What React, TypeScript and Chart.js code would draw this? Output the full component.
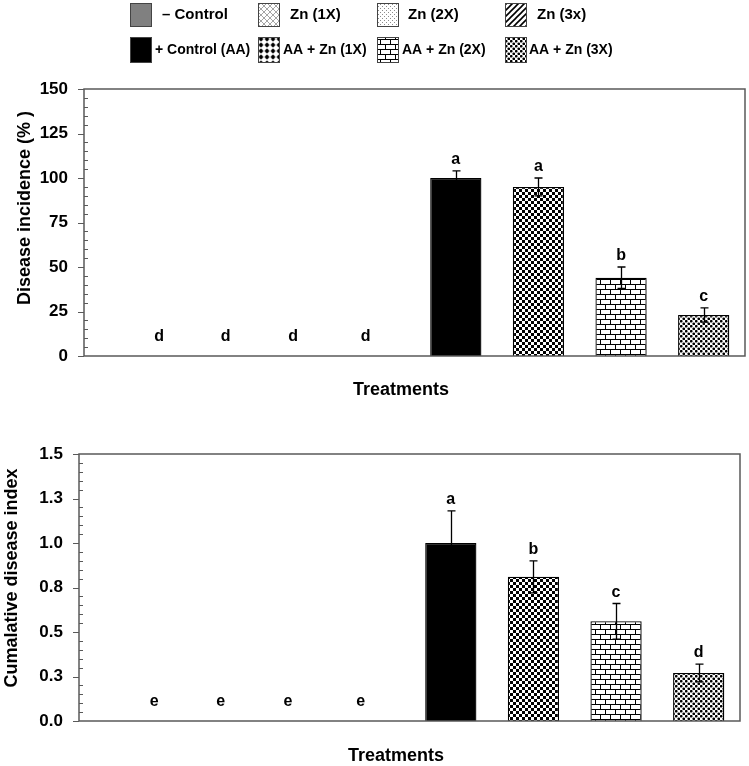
import React, { useEffect, useRef } from "react";
import { Chart, registerables } from "chart.js";

Chart.register(...registerables);

// ---------- data ----------
const TREATMENTS = [
  "– Control",
  "Zn (1X)",
  "Zn (2X)",
  "Zn (3x)",
  "+ Control (AA)",
  "AA + Zn (1X)",
  "AA + Zn (2X)",
  "AA + Zn (3X)",
];
const FILL_KINDS = ["gray", "lattice", "sparse", "diag", "black", "checker", "brick", "dense"];
const LEGEND_FILL_KINDS = ["gray", "lattice", "sparse", "diag", "black", "bigdots", "brick", "dense"];

const INCIDENCE = [0, 0, 0, 0, 100, 95, 44, 23];
const INCIDENCE_SE = [0, 0, 0, 0, 4, 5, 6, 4];
const INCIDENCE_LETTERS = ["d", "d", "d", "d", "a", "a", "b", "c"];
const INCIDENCE_TICK_LABELS = ["0", "25", "50", "75", "100", "125", "150"];

const CDI = [0, 0, 0, 0, 1.0, 0.81, 0.56, 0.27];
const CDI_SE = [0, 0, 0, 0, 0.18, 0.09, 0.1, 0.05];
const CDI_LETTERS = ["e", "e", "e", "e", "a", "b", "c", "d"];
const CDI_TICK_LABELS = ["0.0", "0.3", "0.5", "0.8", "1.0", "1.3", "1.5"];

// ---------- layout / style constants ----------
const FONT = "Arial, 'Liberation Sans', sans-serif";
const AXIS_COLOR = "#595959";
const EMPTY_LETTER_SHIFT = [0.41, 0.215, 0.03, -0.09];

function makeTile(w: number, h: number, draw: (c: CanvasRenderingContext2D) => void): CanvasPattern | string {
  const cv = document.createElement("canvas");
  cv.width = w;
  cv.height = h;
  const c = cv.getContext("2d");
  if (!c) return "#888";
  c.fillStyle = "#fff";
  c.fillRect(0, 0, w, h);
  draw(c);
  return c.createPattern(cv, "repeat") || "#888";
}

function makeFills(): Record<string, string | CanvasPattern> {
  return {
    gray: "#808080",
    black: "#000000",
    lattice: makeTile(6, 6, (c) => {
      c.strokeStyle = "#9a9a9a";
      c.lineWidth = 0.9;
      c.beginPath();
      c.moveTo(0, 0);
      c.lineTo(6, 6);
      c.moveTo(6, 0);
      c.lineTo(0, 6);
      c.stroke();
    }),
    sparse: makeTile(4, 4, (c) => {
      c.fillStyle = "#8c8c8c";
      c.fillRect(0, 0, 1, 1);
      c.fillRect(2, 2, 1, 1);
    }),
    diag: makeTile(6, 6, (c) => {
      c.strokeStyle = "#000";
      c.lineWidth = 1.6;
      c.beginPath();
      c.moveTo(-1, 7);
      c.lineTo(7, -1);
      c.moveTo(-1, 1);
      c.lineTo(1, -1);
      c.moveTo(5, 7);
      c.lineTo(7, 5);
      c.stroke();
    }),
    checker: makeTile(6, 6, (c) => {
      c.fillStyle = "#000";
      c.fillRect(0, 0, 3, 3);
      c.fillRect(3, 3, 3, 3);
    }),
    bigdots: makeTile(6, 6, (c) => {
      c.strokeStyle = "#888";
      c.lineWidth = 0.8;
      c.beginPath();
      c.moveTo(0, 3);
      c.lineTo(6, 3);
      c.moveTo(3, 0);
      c.lineTo(3, 6);
      c.stroke();
      c.fillStyle = "#000";
      c.beginPath();
      c.arc(3, 3, 1.9, 0, Math.PI * 2);
      c.fill();
    }),
    brick: makeTile(10, 10, (c) => {
      c.fillStyle = "#000";
      c.fillRect(0, 4, 10, 1);
      c.fillRect(0, 9, 10, 1);
      c.fillRect(0, 0, 1, 4);
      c.fillRect(5, 5, 1, 4);
    }),
    dense: makeTile(5, 5, (c) => {
      c.fillStyle = "#000";
      c.beginPath();
      c.arc(1.25, 1.25, 1.35, 0, Math.PI * 2);
      c.fill();
      c.beginPath();
      c.arc(3.75, 3.75, 1.35, 0, Math.PI * 2);
      c.fill();
    }),
  };
}

type DecorCfg = {
  se: number[];
  letters: string[];
  minorStep: number;
  majorStep: number;
  yTitle: string;
  yTitleCenter: [number, number];
  xTitle: string;
  xTitleCenter: [number, number];
  legend?: boolean;
  fills: Record<string, string | CanvasPattern>;
};

function decorPlugin(cfg: DecorCfg) {
  return {
    id: "decor",
    afterDatasetsDraw(chart: any) {
      const ctx: CanvasRenderingContext2D = chart.ctx;
      const xs = chart.scales.x;
      const ys = chart.scales.y;
      const values = chart.data.datasets[0].data as number[];
      const step = xs.getPixelForValue(1) - xs.getPixelForValue(0);
      ctx.save();
      // error bars
      ctx.strokeStyle = "#000";
      ctx.lineWidth = 1.3;
      values.forEach((v, i) => {
        const e = cfg.se[i];
        if (!e) return;
        const cx = Math.round(xs.getPixelForValue(i)) + 0.5;
        const yTop = ys.getPixelForValue(v + e);
        const yBot = ys.getPixelForValue(v - e);
        ctx.beginPath();
        ctx.moveTo(cx, yTop);
        ctx.lineTo(cx, yBot);
        ctx.moveTo(cx - 4, yTop);
        ctx.lineTo(cx + 4, yTop);
        ctx.moveTo(cx - 4, yBot);
        ctx.lineTo(cx + 4, yBot);
        ctx.stroke();
      });
      // significance letters
      ctx.fillStyle = "#000";
      ctx.font = `bold 16px ${FONT}`;
      ctx.textAlign = "center";
      ctx.textBaseline = "alphabetic";
      let emptyIdx = 0;
      values.forEach((v, i) => {
        let lx: number;
        let ly: number;
        if (v > 0) {
          lx = xs.getPixelForValue(i);
          ly = ys.getPixelForValue(v + cfg.se[i]) - 7;
        } else {
          lx = xs.getPixelForValue(i) + EMPTY_LETTER_SHIFT[emptyIdx++] * step;
          ly = ys.getPixelForValue(0) - 15;
        }
        ctx.fillText(cfg.letters[i], lx, ly);
      });
      ctx.restore();
    },
    afterDraw(chart: any) {
      const ctx: CanvasRenderingContext2D = chart.ctx;
      const ys = chart.scales.y;
      const a = chart.chartArea;
      ctx.save();
      // frame
      ctx.strokeStyle = AXIS_COLOR;
      ctx.lineWidth = 1.5;
      ctx.strokeRect(a.left, a.top, a.right - a.left, a.bottom - a.top);
      // ticks
      const n = Math.round((ys.max - ys.min) / cfg.minorStep);
      const ratio = Math.round(cfg.majorStep / cfg.minorStep);
      ctx.lineWidth = 1.2;
      ctx.beginPath();
      for (let k = 0; k <= n; k++) {
        const y = Math.round(ys.getPixelForValue(ys.min + k * cfg.minorStep)) + 0.5;
        if (k % ratio === 0) {
          ctx.moveTo(a.left - 6, y);
          ctx.lineTo(a.left, y);
        } else {
          ctx.moveTo(a.left, y);
          ctx.lineTo(a.left + 4, y);
        }
      }
      ctx.stroke();
      // axis titles
      ctx.fillStyle = "#000";
      ctx.font = `bold 18px ${FONT}`;
      ctx.textAlign = "center";
      ctx.textBaseline = "middle";
      ctx.fillText(cfg.xTitle, cfg.xTitleCenter[0], cfg.xTitleCenter[1]);
      ctx.save();
      ctx.translate(cfg.yTitleCenter[0], cfg.yTitleCenter[1]);
      ctx.rotate(-Math.PI / 2);
      ctx.fillText(cfg.yTitle, 0, 0);
      ctx.restore();
      // legend
      if (cfg.legend) {
        const boxX = [130, 258, 377, 505];
        const textX = [[162, 290, 408, 537], [155, 283, 402, 529]];
        const rowBox = [[3, 23], [37, 25]];
        const rowText = [15, 50];
        const rowFont = [15, 14];
        TREATMENTS.forEach((name, i) => {
          const row = i < 4 ? 0 : 1;
          const col = i % 4;
          const bx = boxX[col];
          const [by, bh] = rowBox[row];
          ctx.fillStyle = cfg.fills[LEGEND_FILL_KINDS[i]] as any;
          ctx.fillRect(bx, by, 21, bh);
          ctx.strokeStyle = "#444";
          ctx.lineWidth = 1;
          ctx.strokeRect(bx + 0.5, by + 0.5, 21, bh);
          ctx.fillStyle = "#000";
          ctx.font = `bold ${rowFont[row]}px ${FONT}`;
          ctx.textAlign = "left";
          ctx.textBaseline = "middle";
          if (i === 4) ctx.fillText(name, textX[row][col], rowText[row], 97);
          else ctx.fillText(name, textX[row][col], rowText[row]);
        });
      }
      ctx.restore();
    },
  };
}

function buildChart(
  canvas: HTMLCanvasElement,
  values: number[],
  cfg: DecorCfg,
  yMax: number,
  yStep: number,
  tickLabels: string[],
  pad: { top: number; right: number },
  yWidth: number,
  xHeight: number
) {
  return new Chart(canvas, {
    type: "bar",
    data: {
      labels: TREATMENTS,
      datasets: [
        {
          data: values,
          backgroundColor: FILL_KINDS.map((k) => cfg.fills[k]) as any,
          borderColor: "#000",
          borderWidth: 1.3,
          borderSkipped: "start",
          barPercentage: 0.62,
          categoryPercentage: 1,
        },
      ],
    },
    options: {
      responsive: false,
      animation: false,
      layout: { padding: { top: pad.top, right: pad.right, left: 0, bottom: 0 } },
      plugins: { legend: { display: false }, tooltip: { enabled: false } },
      scales: {
        x: {
          type: "category",
          grid: { display: false, drawTicks: false },
          border: { display: false },
          ticks: { display: false },
          afterFit: (s: any) => {
            s.height = xHeight;
          },
        },
        y: {
          min: 0,
          max: yMax,
          grid: { display: false, drawTicks: false },
          border: { display: false },
          ticks: {
            stepSize: yStep,
            padding: 16,
            color: "#000",
            font: { family: FONT, size: 17, weight: "bold" },
            callback: (_v: any, i: number) => tickLabels[i],
          },
          afterFit: (s: any) => {
            s.width = yWidth;
          },
        },
      },
    },
    plugins: [decorPlugin(cfg) as any],
  });
}

export default function App() {
  const topRef = useRef<HTMLCanvasElement>(null);
  const botRef = useRef<HTMLCanvasElement>(null);

  useEffect(() => {
    document.body.style.margin = "0";
    const fills = makeFills();
    const charts: Chart[] = [];
    if (topRef.current) {
      charts.push(
        buildChart(
          topRef.current,
          INCIDENCE,
          {
            se: INCIDENCE_SE,
            letters: INCIDENCE_LETTERS,
            minorStep: 5,
            majorStep: 25,
            yTitle: "Disease incidence (% )",
            yTitleCenter: [25, 208],
            xTitle: "Treatments",
            xTitleCenter: [401, 390],
            legend: true,
            fills,
          },
          150,
          25,
          INCIDENCE_TICK_LABELS,
          { top: 89, right: 4 },
          84,
          49
        )
      );
    }
    if (botRef.current) {
      charts.push(
        buildChart(
          botRef.current,
          CDI,
          {
            se: CDI_SE,
            letters: CDI_LETTERS,
            minorStep: 0.05,
            majorStep: 0.25,
            yTitle: "Cumalative disease index",
            yTitleCenter: [12, 173],
            xTitle: "Treatments",
            xTitleCenter: [396, 351],
            fills,
          },
          1.5,
          0.25,
          CDI_TICK_LABELS,
          { top: 49, right: 9 },
          79,
          45
        )
      );
    }
    return () => charts.forEach((c) => c.destroy());
  }, []);

  return (
    <div style={{ position: "absolute", left: 0, top: 0, width: 749, height: 766, background: "#fff" }}>
      <canvas ref={topRef} width={749} height={405} style={{ position: "absolute", left: 0, top: 0 }} />
      <canvas ref={botRef} width={749} height={361} style={{ position: "absolute", left: 0, top: 405 }} />
    </div>
  );
}
